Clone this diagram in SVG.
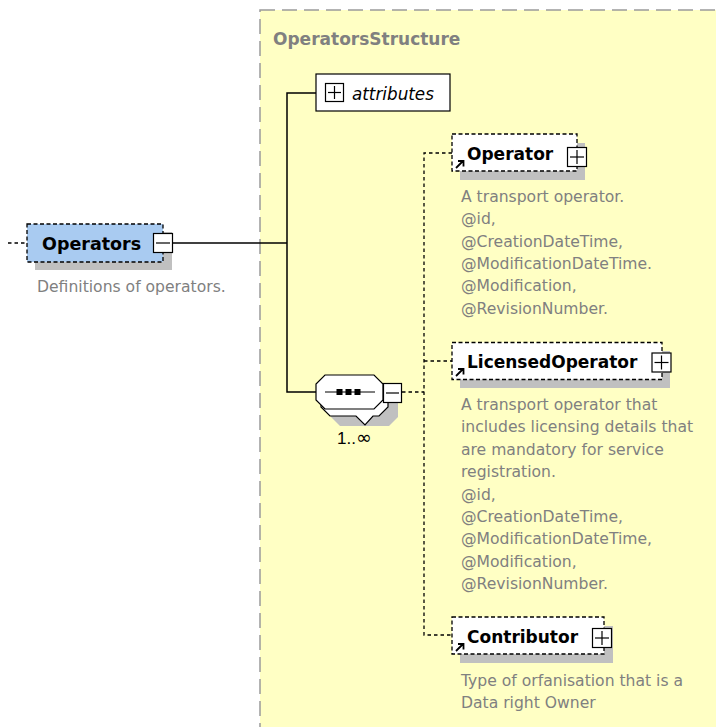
<svg xmlns="http://www.w3.org/2000/svg" width="716" height="727" viewBox="0 0 716 727">
<style>
text{font-family:"DejaVu Sans","Liberation Sans",sans-serif}
.title{font-size:17px;font-weight:bold;fill:#808080}
.name{font-size:17px;font-weight:bold;fill:#000}
.desc{font-size:15.6px;fill:#808080}
.el{fill:#fff;stroke:#000;stroke-width:1.3;stroke-dasharray:4 2.5}
.shadow{fill:#c0c0c0}
.box{fill:#fff;stroke:#000;stroke-width:1.2}
.sym{fill:none;stroke:#000;stroke-width:1.2}
.ref{fill:none;stroke:#000;stroke-width:1.8}
.solid{fill:none;stroke:#000;stroke-width:1.5}
.dot{fill:none;stroke:#000;stroke-width:1.3;stroke-dasharray:3.5 3}
</style>
<rect x="0" y="0" width="716" height="727" fill="#fff"/>
<g id="OperatorsStructure">
<rect x="260" y="10" width="470" height="730" fill="#ffffc4" stroke="#9a9a9a" stroke-width="1.5" stroke-dasharray="15 7"/>
<text class="title" x="273" y="45">OperatorsStructure</text>
</g>
<g id="connectors">
<line class="dot" x1="8" y1="243" x2="27" y2="243"/>
<polyline class="solid" points="173,243 287,243"/>
<polyline class="solid" points="316,93 287,93 287,392 316,392"/>
<line class="dot" x1="402" y1="392" x2="424" y2="392"/>
<polyline class="dot" points="452,153 424,153 424,635 452,635"/>
<line class="dot" x1="424" y1="361" x2="452" y2="361"/>
</g>
<g id="Operators">
<rect class="shadow" x="35" y="232" width="137" height="38"/>
<rect x="27" y="224" width="136" height="38" fill="#a9cbf1" stroke="#000" stroke-width="1.3" stroke-dasharray="4 2.5"/>
<text class="name" x="42" y="250" style="font-size:17.5px">Operators</text>
<rect class="box" x="153.5" y="233.5" width="19" height="19"/>
<line class="sym" x1="156" y1="243" x2="170" y2="243"/>
<text class="desc" x="37" y="291.5">Definitions of operators.</text>
</g>
<g id="attributes">
<rect class="box" x="316" y="74" width="134" height="37"/>
<rect class="box" x="325.5" y="83.5" width="18" height="18"/>
<line class="sym" x1="328" y1="92.5" x2="341" y2="92.5"/>
<line class="sym" x1="334.5" y1="86" x2="334.5" y2="99"/>
<text x="352" y="100" style="font-size:16.8px;font-style:italic;fill:#000">attributes</text>
</g>
<g id="sequence">
<path class="shadow" d="M340,392 L389,392 L398,401 L398,417 L389,426 L340,426 L331,417 L331,401 Z"/>
<path d="M330,382 L379,382 L388,391 L388,407 L379,416 L373,416 L365,425 L356,416 L330,416 L321,407 L321,391 Z" fill="#fff" stroke="#000" stroke-width="1.2"/>
<path d="M325,375 L374,375 L383,384 L383,400 L374,409 L325,409 L316,400 L316,384 Z" fill="#fff" stroke="#000" stroke-width="1.2"/>
<line class="sym" x1="325" y1="392" x2="375" y2="392"/>
<rect x="336.5" y="389" width="6" height="6" fill="#000"/>
<rect x="345.5" y="389" width="6" height="6" fill="#000"/>
<rect x="354.5" y="389" width="6" height="6" fill="#000"/>
<rect class="box" x="383.5" y="383.5" width="18" height="19"/>
<line class="sym" x1="386" y1="393" x2="399" y2="393"/>
<text x="337" y="444" style="font-family:'Liberation Sans',sans-serif;font-size:17px;fill:#000">1..<tspan style="font-family:'DejaVu Sans',sans-serif;font-size:19px">∞</tspan></text>
</g>
<g id="Operator">
<rect class="shadow" x="460" y="143" width="125" height="37"/>
<rect class="el" x="452" y="134" width="125" height="37"/>
<path class="ref" d="M456,168 L463,161 M458,161 L463.5,161 L463.5,166.5"/>
<text class="name" x="467" y="160">Operator</text>
<rect class="box" x="567.5" y="147.5" width="19" height="19"/>
<line class="sym" x1="570" y1="157" x2="584" y2="157"/>
<line class="sym" x1="577" y1="150" x2="577" y2="164"/>
<text class="desc" x="461" y="202"><tspan x="461">A transport operator.</tspan><tspan x="461" dy="22.3">@id,</tspan><tspan x="461" dy="22.3">@CreationDateTime,</tspan><tspan x="461" dy="22.3">@ModificationDateTime.</tspan><tspan x="461" dy="22.3">@Modification,</tspan><tspan x="461" dy="22.3">@RevisionNumber.</tspan></text>
</g>
<g id="LicensedOperator">
<rect class="shadow" x="460" y="351" width="210" height="37"/>
<rect class="el" x="452" y="342.5" width="210" height="37"/>
<path class="ref" d="M456,376 L463,369 M458,369 L463.5,369 L463.5,374.5"/>
<text class="name" x="467" y="368">LicensedOperator</text>
<rect class="box" x="652" y="353" width="19" height="19"/>
<line class="sym" x1="654.5" y1="362.5" x2="668.5" y2="362.5"/>
<line class="sym" x1="661.5" y1="355.5" x2="661.5" y2="369.5"/>
<text class="desc" x="461" y="410"><tspan x="461">A transport operator that</tspan><tspan x="461" dy="22.4">includes licensing details that</tspan><tspan x="461" dy="22.4">are mandatory for service</tspan><tspan x="461" dy="22.4">registration.</tspan><tspan x="461" dy="22.4">@id,</tspan><tspan x="461" dy="22.4">@CreationDateTime,</tspan><tspan x="461" dy="22.4">@ModificationDateTime,</tspan><tspan x="461" dy="22.4">@Modification,</tspan><tspan x="461" dy="22.4">@RevisionNumber.</tspan></text>
</g>
<g id="Contributor">
<rect class="shadow" x="460" y="626" width="153" height="37"/>
<rect class="el" x="452" y="617" width="152" height="37"/>
<path class="ref" d="M456,651 L463,644 M458,644 L463.5,644 L463.5,649.5"/>
<text class="name" x="467" y="643">Contributor</text>
<rect class="box" x="592.5" y="628.5" width="19" height="19"/>
<line class="sym" x1="595" y1="638" x2="609" y2="638"/>
<line class="sym" x1="602" y1="631" x2="602" y2="645"/>
<text class="desc" x="461" y="685.5"><tspan x="461">Type of orfanisation that is a</tspan><tspan x="461" dy="22.4">Data right Owner</tspan></text>
</g>
</svg>
